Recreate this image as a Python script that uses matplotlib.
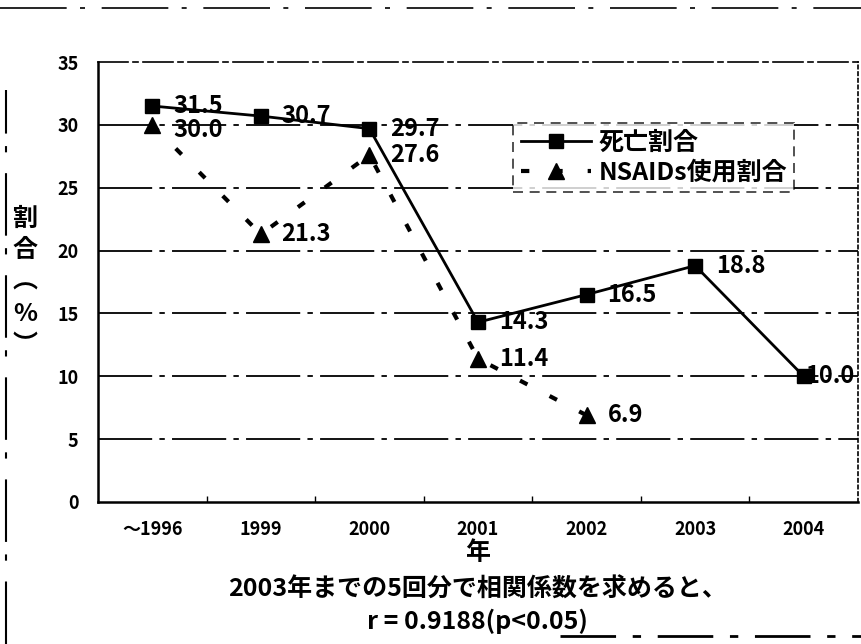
import matplotlib
matplotlib.use("Agg")
import matplotlib.pyplot as plt
from matplotlib.lines import Line2D

plt.rcParams['font.family'] = ['Noto Sans CJK JP', 'DejaVu Sans']

# data
years = ['～1996', '1999', '2000', '2001', '2002', '2003', '2004']
death_rate = [31.5, 30.7, 29.7, 14.3, 16.5, 18.8, 10.0]
nsaid_rate = [30.0, 21.3, 27.6, 11.4, 6.9, None, None]
y_ticks = [0, 5, 10, 15, 20, 25, 30, 35]

fig = plt.figure(figsize=(8.61, 6.44), dpi=100)
ax = fig.add_axes([0.1138, 0.2205, 0.8827, 0.6832])

x = list(range(len(years)))
nx = [i for i, v in zip(x, nsaid_rate) if v is not None]
nv = [v for v in nsaid_rate if v is not None]

# grid lines (scan look: broken dash-dot)
for yv in y_ticks[1:-1]:
    ax.axhline(yv, color='black', lw=1.3, dashes=(30, 4, 3, 4), zorder=1)

ax.plot(x, death_rate, color='black', lw=2, marker='s', markersize=10, zorder=4)
ax.plot(nx, nv, color='black', lw=3, dashes=(2, 6), marker='^', markersize=12, zorder=3)

for i, v in enumerate(death_rate):
    off = 15 if i < len(x) - 1 else 1
    ax.annotate(f'{v:.1f}', (i, v), xytext=(off, 0), textcoords='offset points',
                ha='left', va='center', fontsize=17, fontweight='bold', zorder=2)
for i, v in zip(nx, nv):
    dy = -4 if i == 0 else 0
    ax.annotate(f'{v:.1f}', (i, v), xytext=(15, dy), textcoords='offset points',
                ha='left', va='center', fontsize=17, fontweight='bold', zorder=2)

ax.set_xlim(-0.5, len(years) - 0.5)
ax.set_ylim(0, 35)
ax.set_yticks(y_ticks)
ax.set_yticklabels([str(t) for t in y_ticks], fontsize=13, fontweight='bold')
ax.set_xticks([i + 0.5 for i in x[:-1]])
ax.set_xticklabels([])
ax.tick_params(axis='x', length=4, width=1, direction='in')
ax.tick_params(axis='y', length=0, pad=14)
for i, lab in enumerate(years):
    ax.text(i, -2.2, lab, ha='center', va='center', fontsize=13, fontweight='bold')

for s in ['left', 'bottom']:
    ax.spines[s].set_linewidth(1.8)
ax.spines['top'].set_linewidth(1.2)
ax.spines['top'].set_linestyle((0, (18, 3, 3, 3)))
ax.spines['right'].set_linewidth(1.2)
ax.spines['right'].set_linestyle((0, (2, 2)))

handles = [
    Line2D([], [], color='black', lw=2, marker='s', markersize=10),
    Line2D([], [], color='black', lw=3, dashes=(2, 6), marker='^', markersize=12),
]
leg = ax.legend(handles, ['死亡割合', 'NSAIDs使用割合'], loc='upper left',
                bbox_to_anchor=(0.53, 0.89), frameon=True, fancybox=False,
                handlelength=2.8, handletextpad=0.3, borderpad=0.3, labelspacing=0.25,
                prop={'size': 18, 'weight': 'bold'})
leg.get_frame().set_edgecolor('black')
leg.get_frame().set_linestyle((0, (6, 4)))
leg.get_frame().set_linewidth(1.2)

# vertical y label
ax.text(-0.096, 0.5, '割\n合\n︵\n%\n︶', transform=ax.transAxes, ha='center', va='center',
        fontsize=18, fontweight='bold', linespacing=1.4)

fig.text(0.555, 0.142, '年', ha='center', va='center', fontsize=18, fontweight='bold')
fig.text(0.555, 0.085, '2003年までの5回分で相関係数を求めると、', ha='center', va='center',
         fontsize=18, fontweight='bold')
fig.text(0.555, 0.035, 'r = 0.9188(p<0.05)', ha='center', va='center',
         fontsize=18, fontweight='bold')

# outer frame fragments of the scanned slide
fig.add_artist(Line2D([0.0, 1.0], [0.988, 0.988], transform=fig.transFigure,
                      color='black', lw=1.2, dashes=(40, 8, 3, 10)))
fig.add_artist(Line2D([0.007, 0.007], [0.0, 0.86], transform=fig.transFigure,
                      color='black', lw=1.5, dashes=(30, 10, 3, 6)))
fig.add_artist(Line2D([0.65, 1.0], [0.012, 0.012], transform=fig.transFigure,
                      color='black', lw=2, dashes=(20, 6, 3, 6)))

fig.savefig('out.png', dpi=100)
